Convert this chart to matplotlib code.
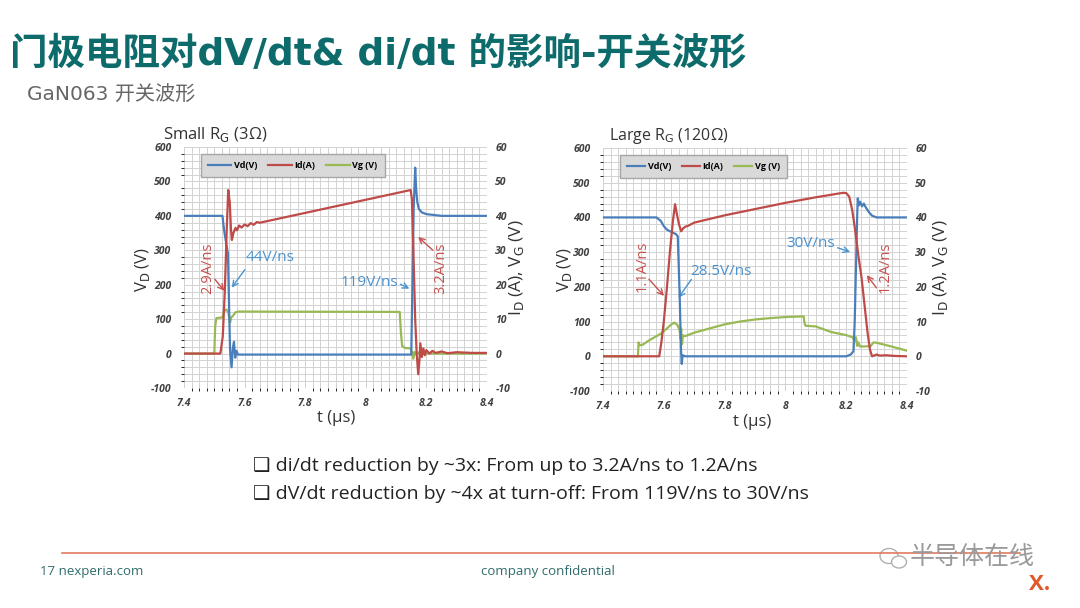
#GaN063 switching waveforms, small vs large gate resistor
import matplotlib.pyplot as plt
from matplotlib.lines import Line2D
from matplotlib.patches import Ellipse
from matplotlib.ticker import MultipleLocator

plt.rcParams['font.family'] = ['Open Sans', 'DejaVu Sans']
plt.rcParams['axes.unicode_minus'] = False

#small RG (3 ohm): breakpoints
small_vd_t = [7.4, 7.527, 7.532, 7.539, 7.545, 7.552, 7.557, 7.561, 7.565, 7.569, 7.573, 7.578, 7.6,
              8.15, 8.153, 8.158, 8.163, 8.166, 8.17, 8.175, 8.185, 8.2, 8.25, 8.4]
small_vd = [400, 400, 360, 322, 290, 10, -40, 15, 34, -12, 8, -3, -3,
            -3, 150, 420, 540, 480, 440, 420, 410, 405, 400, 400]
small_id_t = [7.4, 7.52, 7.528, 7.535, 7.541, 7.546, 7.551, 7.555, 7.558, 7.563, 7.57, 7.575, 7.582,
              7.59, 7.6, 7.61, 7.62, 7.63, 7.64, 7.65, 8.148, 8.152, 8.157, 8.163, 8.168, 8.173,
              8.177, 8.18, 8.185, 8.19, 8.195, 8.2, 8.21, 8.22, 8.23, 8.25, 8.27, 8.3, 8.35, 8.4]
small_id = [0, 0, 5, 19, 36, 47.5, 44, 36, 33, 35, 36.5, 35.8, 37.2,
            36.6, 37.5, 37, 37.9, 37.4, 38.2, 38, 47.5, 45, 30, 10, 0, -6,
            -2, 3, -1, 1.5, -0.5, 1, 0, 0.8, 0.2, 0.6, 0.1, 0.4, 0.2, 0.2]
small_vg_t = [7.4, 7.5, 7.503, 7.507, 7.527, 7.532, 7.54, 7.546, 7.552, 7.556, 7.562, 7.57, 7.58,
              8.112, 8.116, 8.12, 8.13, 8.148, 8.153, 8.157, 8.161, 8.166, 8.172, 8.18, 8.4]
small_vg = [0, 0, 8, 10.3, 10.5, 12.3, 12.8, 12, 9, 10.5, 11, 12, 12.2,
            12.1, 6, 2.2, 1.6, 1.5, 0.3, -1.5, 0.5, -0.3, 0.3, 0, 0]

#large RG (120 ohm)
large_vd_t = [7.4, 7.576, 7.59, 7.6, 7.61, 7.625, 7.64, 7.646, 7.652, 7.657, 7.659, 7.662, 7.67,
              8.2, 8.215, 8.224, 8.228, 8.232, 8.236, 8.238, 8.242, 8.246, 8.252, 8.258, 8.265,
              8.275, 8.285, 8.3, 8.4]
large_vd = [400, 400, 390, 375, 365, 358, 352, 345, 180, 10, -22, 3, 0,
            0, 5, 15, 100, 250, 400, 455, 435, 445, 432, 440, 428,
            415, 405, 400, 400]
large_id_t = [7.4, 7.585, 7.592, 7.6, 7.61, 7.62, 7.63, 7.637, 7.643, 7.65, 7.657, 7.663, 7.67,
              7.68, 7.7, 7.8, 7.9, 8.0, 8.1, 8.19, 8.2, 8.21, 8.22, 8.23, 8.24, 8.25, 8.26,
              8.27, 8.278, 8.285, 8.3, 8.31, 8.33, 8.36, 8.4]
large_id = [0, 0, 4, 10, 19.5, 30, 39, 43.8, 41, 38, 36, 36.8, 37.3,
            37.6, 38.5, 40.6, 42.4, 44.2, 45.8, 47.1, 47, 46, 42, 36, 29, 23, 15,
            7, 2, 0, 0.5, 0.2, 0.3, 0.1, 0]
large_vg_t = [7.4, 7.515, 7.517, 7.52, 7.53, 7.55, 7.57, 7.59, 7.61, 7.625, 7.635, 7.645, 7.652,
              7.655, 7.657, 7.66, 7.663, 7.67, 7.7, 7.75, 7.8, 7.85, 7.9, 7.95, 8.0, 8.06,
              8.063, 8.066, 8.1, 8.15, 8.2, 8.22, 8.228, 8.232, 8.236, 8.24, 8.245, 8.28,
              8.29, 8.3, 8.35, 8.4]
large_vg = [0, 0, 4, 3.2, 3.3, 4.5, 5.5, 6.5, 8, 9.2, 9.7, 9, 7.5,
            5, 8, 3.5, 6, 5.8, 6.8, 8, 9.2, 10, 10.6, 11, 11.3, 11.5,
            9.5, 8.8, 8.6, 7, 6.1, 5.5, 4.5, 5.5, 3, 4, 2.8, 2.9,
            4, 3.9, 2.8, 1.6]

x_ticks = [7.4, 7.6, 7.8, 8.0, 8.2, 8.4]
x_tick_labels = ['7.4', '7.6', '7.8', '8', '8.2', '8.4']
legend_names = ['Vd(V)', 'Id(A)', 'Vg (V)']

BLUE = '#4a7ebb'
RED = '#be4b48'
GREEN = '#98b954'
TXT_BLUE = '#4a93cf'
TXT_RED = '#c9504d'
TEAL = '#0e6b6b'
LABEL = '#333333'


def panel(rect, vd_t, vd, id_t, idv, vg_t, vg, leg_w):
    ax = fig.add_axes(rect)
    ax2 = ax.twinx()
    ax.set_xlim(7.4, 8.4)
    ax.set_ylim(-100, 600)
    ax2.set_ylim(-10, 60)
    #all three traces live on the top axes so the grid stays underneath
    ax2.plot(vg_t, vg, color=GREEN, lw=1.6)
    ax2.plot(vd_t, vd, color=BLUE, lw=1.6, transform=ax.transData)
    ax2.plot(id_t, idv, color=RED, lw=1.6)
    ax.set_xticks(x_ticks)
    ax.set_xticklabels(x_tick_labels)
    ax.xaxis.set_minor_locator(MultipleLocator(0.025))
    ax.yaxis.set_major_locator(MultipleLocator(100))
    ax.yaxis.set_minor_locator(MultipleLocator(20))
    ax2.yaxis.set_major_locator(MultipleLocator(10))
    ax.grid(True, which='both', color='#d2d2d2', lw=0.7)
    ax.set_axisbelow(True)
    for a in (ax, ax2):
        for s in a.spines.values():
            s.set_visible(False)
        a.tick_params(length=0, labelsize=7.5, labelcolor='#404040')
        for lab in a.get_xticklabels() + a.get_yticklabels():
            lab.set_fontweight('bold')
            lab.set_fontstyle('italic')
    ax.tick_params(axis='y', pad=9)
    ax.tick_params(axis='x', pad=7)
    ax2.tick_params(axis='y', pad=6)
    handles = [Line2D([], [], color=c, lw=1.6) for c in (BLUE, RED, GREEN)]
    leg = ax2.legend(handles, legend_names, loc='upper left', bbox_to_anchor=(0.04, 0.99),
                     ncol=3, handlelength=leg_w, columnspacing=1.2, handletextpad=0.3,
                     fancybox=False, framealpha=1, borderpad=0.8, prop={'weight': 'bold', 'size': 6.5})
    leg.get_frame().set_facecolor('#d9d9d9')
    leg.get_frame().set_edgecolor('#a6a6a6')
    return ax


def note(ax, text, pos, color, start, tip, rot=0, size=10.5):
    ax.text(pos[0], pos[1], text, color=color, fontsize=size, rotation=rot,
            ha='center', va='center', zorder=8)
    ax.annotate('', xy=tip, xytext=start, zorder=8,
                arrowprops=dict(arrowstyle='->', color=color, lw=1.0))


def px(x, y):
    return x / 1080, 1 - y / 608


fig = plt.figure(figsize=(10.8, 6.08), dpi=100)

axl = panel([184 / 1080, 1 - 388 / 608, 303 / 1080, 241 / 608],
            small_vd_t, small_vd, small_id_t, small_id, small_vg_t, small_vg, 2.6)
axr = panel([603 / 1080, 1 - 391 / 608, 304 / 1080, 243 / 608],
            large_vd_t, large_vd, large_id_t, large_id, large_vg_t, large_vg, 2.0)

note(axl, '2.9A/ns', (7.479, 248), TXT_RED, (7.496, 222), (7.539, 176), rot=90)
note(axl, '44V/ns', (7.684, 278), TXT_BLUE, (7.606, 250), (7.552, 185), size=11)
note(axl, '119V/ns', (8.011, 205), TXT_BLUE, (8.106, 205), (8.152, 185), size=11)
note(axl, '3.2A/ns', (8.248, 248), TXT_RED, (8.228, 295), (8.166, 344), rot=90)

note(axr, '1.1A/ns', (7.528, 260), TXT_RED, (7.545, 228), (7.607, 168), rot=90)
note(axr, '28.5V/ns', (7.788, 245), TXT_BLUE, (7.696, 228), (7.643, 162), size=11)
note(axr, '30V/ns', (8.084, 326), TXT_BLUE, (8.163, 315), (8.222, 298), size=11)
note(axr, '1.2A/ns', (8.328, 257), TXT_RED, (8.305, 191), (8.262, 240), rot=90)

#panel titles and axis labels
fig.text(*px(163, 134), 'Small R$_\\mathrm{G}$ (3Ω)', fontsize=12, va='center', color=LABEL)
fig.text(*px(609, 136), 'Large R$_\\mathrm{G}$ (120Ω)', fontsize=11.5, va='center', color=LABEL)
for xl, xr in ((143, 516), (564, 940)):
    fig.text(*px(xl, 270), 'V$_\\mathrm{D}$ (V)', rotation=90, fontsize=12, ha='center', va='center', color=LABEL)
    fig.text(*px(xr, 268), 'I$_\\mathrm{D}$ (A), V$_\\mathrm{G}$ (V)', rotation=90, fontsize=12.5,
             ha='center', va='center', color=LABEL)
fig.text(*px(336, 418), 't (µs)', fontsize=12, ha='center', va='center', color=LABEL)
fig.text(*px(752, 422), 't (µs)', fontsize=12, ha='center', va='center', color=LABEL)

#slide title
fig.text(*px(10, 55), '门极电阻对dV/dt& di/dt 的影响-开关波形', fontsize=27, fontweight='bold',
         color=TEAL, va='center', family=['DejaVu Sans', 'Noto Sans CJK SC'])
fig.text(*px(27, 95), 'GaN063 开关波形', fontsize=14.5, color='#666666', va='center',
         family=['DejaVu Sans', 'Noto Sans CJK SC'])

#bullets
fig.text(*px(253, 466), '❑ di/dt reduction by ~3x: From up to 3.2A/ns to 1.2A/ns',
         fontsize=14, va='center', color='#222222')
fig.text(*px(253, 494), '❑ dV/dt reduction by ~4x at turn-off: From 119V/ns to 30V/ns',
         fontsize=14, va='center', color='#222222')

#footer
fig.add_artist(Line2D([62 / 1080, 1020 / 1080], [1 - 553 / 608, 1 - 553 / 608], color='#e07a5f', lw=1.2))
fig.text(*px(40, 572), '17 nexperia.com', fontsize=9.5, color='#2f6b6b', va='center')
fig.text(*px(481, 572), 'company confidential', fontsize=9.5, color='#2f6b6b', va='center')
fig.text(*px(1040, 584), 'X.', fontsize=16, fontweight='bold', color='#e0582a',
         ha='center', va='center')
fig.text(*px(910, 557), '半导体在线', fontsize=18, color='#9a9a9a', va='center',
         family=['Noto Sans CJK SC', 'DejaVu Sans'])
fig.add_artist(Ellipse(px(889, 556), 18 / 1080, 15 / 608, fill=False, ec='#b0b0b0', lw=1.0))
fig.add_artist(Ellipse(px(899, 562), 15 / 1080, 12 / 608, fc='white', ec='#b0b0b0', lw=1.0))

plt.savefig('out.png', dpi=100)
